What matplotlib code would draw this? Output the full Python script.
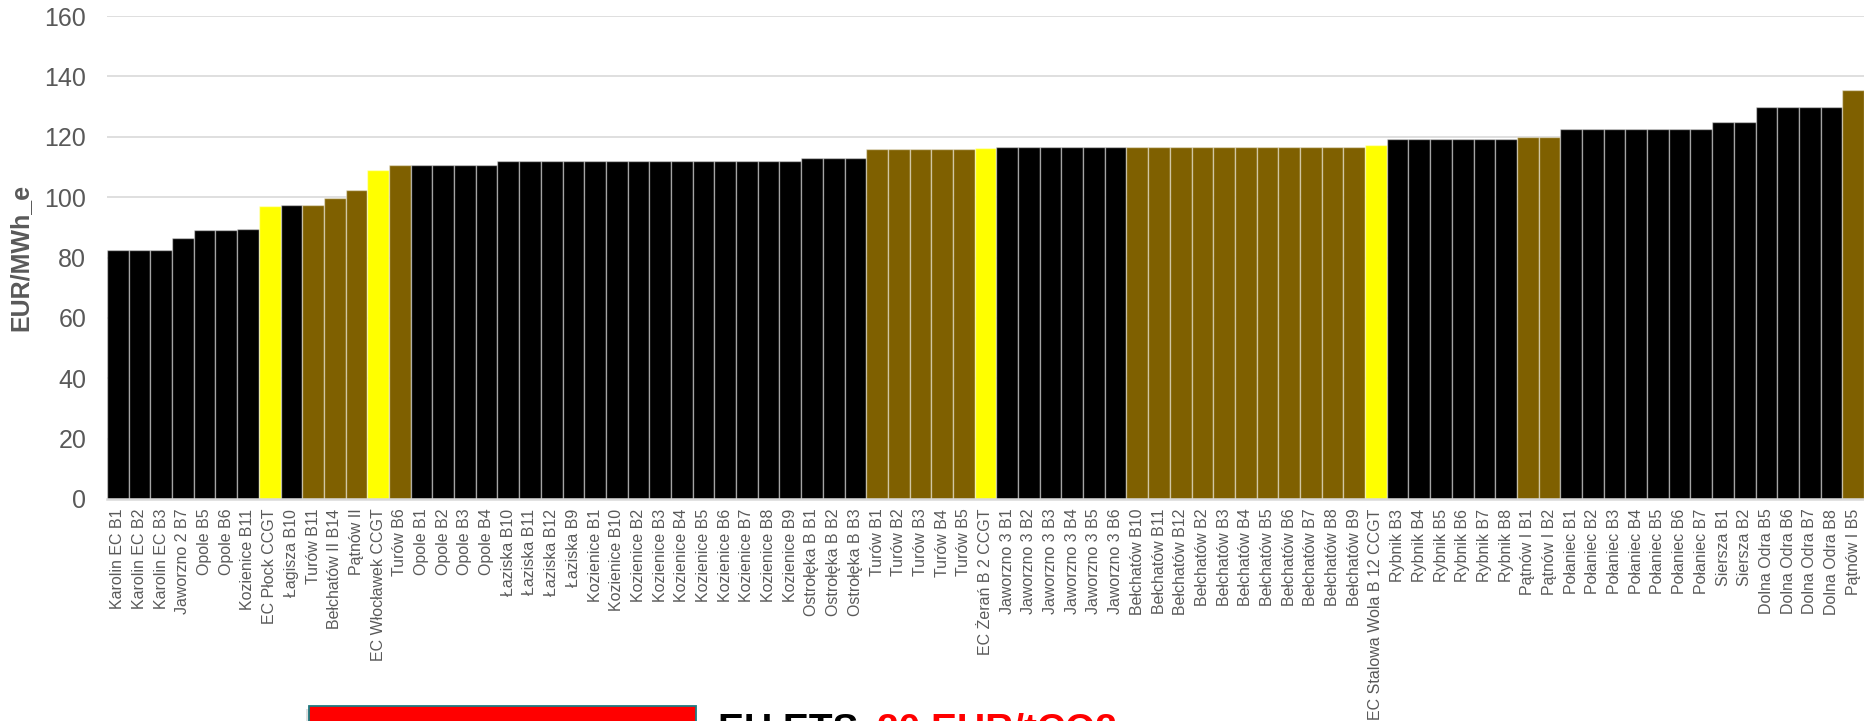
import matplotlib
matplotlib.use("Agg")
import matplotlib.pyplot as plt
from matplotlib.patches import Rectangle

plt.rcParams['font.family'] = ['Liberation Sans', 'DejaVu Sans']

categories = [
    "Karolin EC B1", "Karolin EC B2", "Karolin EC B3", "Jaworzno 2 B7", "Opole B5", "Opole B6",
    "Kozienice B11", "EC Płock CCGT", "Łagisza B10", "Turów B11", "Bełchatów II B14", "Pątnów II",
    "EC Włocławek CCGT", "Turów B6", "Opole B1", "Opole B2", "Opole B3", "Opole B4",
    "Łaziska B10", "Łaziska B11", "Łaziska B12", "Łaziska B9", "Kozienice B1", "Kozienice B10",
    "Kozienice B2", "Kozienice B3", "Kozienice B4", "Kozienice B5", "Kozienice B6", "Kozienice B7",
    "Kozienice B8", "Kozienice B9", "Ostrołęka B B1", "Ostrołęka B B2", "Ostrołęka B B3",
    "Turów B1", "Turów B2", "Turów B3", "Turów B4", "Turów B5", "EC Żerań B 2 CCGT",
    "Jaworzno 3 B1", "Jaworzno 3 B2", "Jaworzno 3 B3", "Jaworzno 3 B4", "Jaworzno 3 B5", "Jaworzno 3 B6",
    "Bełchatów B10", "Bełchatów B11", "Bełchatów B12", "Bełchatów B2", "Bełchatów B3", "Bełchatów B4",
    "Bełchatów B5", "Bełchatów B6", "Bełchatów B7", "Bełchatów B8", "Bełchatów B9",
    "EC Stalowa Wola B 12 CCGT", "Rybnik B3", "Rybnik B4", "Rybnik B5", "Rybnik B6", "Rybnik B7",
    "Rybnik B8", "Pątnów I B1", "Pątnów I B2", "Połaniec B1", "Połaniec B2", "Połaniec B3",
    "Połaniec B4", "Połaniec B5", "Połaniec B6", "Połaniec B7", "Siersza B1", "Siersza B2",
    "Dolna Odra B5", "Dolna Odra B6", "Dolna Odra B7", "Dolna Odra B8", "Pątnów I B5",
]

values = [
    82.4, 82.4, 82.4, 86.3, 89.0, 89.0,
    89.6, 96.9, 97.5, 97.5, 99.6, 102.2,
    109.1, 110.6, 110.6, 110.6, 110.6, 110.6,
    111.9, 111.9, 111.9, 111.9, 112.1, 112.1,
    112.1, 112.1, 112.1, 112.1, 112.1, 112.1,
    112.1, 112.1, 112.8, 112.8, 112.8,
    115.9, 115.9, 115.9, 115.9, 115.9, 116.2,
    116.5, 116.5, 116.5, 116.5, 116.5, 116.5,
    116.5, 116.5, 116.5, 116.5, 116.5, 116.5,
    116.5, 116.5, 116.5, 116.5, 116.5,
    117.4, 119.4, 119.4, 119.4, 119.4, 119.4,
    119.4, 119.8, 119.8, 122.7, 122.7, 122.7,
    122.7, 122.7, 122.7, 122.7, 125.0, 125.0,
    129.8, 129.8, 129.8, 129.8, 135.4,
]

# fuel type: h = hard coal, l = lignite, g = gas
fuel = (
    "hhhhhh" "hghlll" "glhhhh" "hhhhhh" "hhhhhh" "hhhhh"
    "lllllg" "hhhhhh" "llllll" "lllll" "g" "hhhhhh" "ll" "hhhhhhh" "hh" "hhhh" "l"
)
fuel_colors = {"h": "#000000", "l": "#7F6000", "g": "#FFFF00"}
colors = [fuel_colors[f] for f in fuel]

yticks = [0, 20, 40, 60, 80, 100, 120, 140, 160]

W, H = 1864, 721
fig = plt.figure(figsize=(W / 100, H / 100), dpi=100)
ax = fig.add_axes([107 / W, 1 - 499 / H, 1 - 107 / W, (499 - 16) / H])

x = list(range(len(categories)))
ax.bar(x, values, width=1.0, color=colors, edgecolor=(1, 1, 1, 0.45), linewidth=1.0, zorder=3)

ax.set_xlim(-0.5, len(categories) - 0.5)
ax.set_ylim(0, 160)
ax.set_yticks(yticks)
ax.set_yticklabels([str(v) for v in yticks])
ax.set_xticks(x)
ax.set_xticklabels(categories, rotation=90, fontsize=11.5, color="#595959")
ax.tick_params(axis="y", length=0, pad=15, labelsize=18, labelcolor="#595959")
ax.tick_params(axis="x", length=0, pad=7)
ax.grid(axis="y", color="#d9d9d9", linewidth=1.2, zorder=0)
for s in ["top", "right", "left"]:
    ax.spines[s].set_visible(False)
ax.spines["bottom"].set_color("#d9d9d9")
ax.spines["bottom"].set_linewidth(1.8)
ax.spines["bottom"].set_zorder(4)

ax.set_ylabel("EUR/MWh_e", fontsize=18, fontweight="bold", color="#595959")
ax.yaxis.set_label_coords(-(107 - 32) / (W - 107), 0.5)

# red box at bottom (with a faint shadow)
fig.patches.append(Rectangle((306 / W, -40 / H), (696 - 309) / W, (721 - 709 + 40) / H,
                             transform=fig.transFigure, facecolor="#000000", alpha=0.12,
                             edgecolor="none"))
fig.patches.append(Rectangle((309 / W, -40 / H), (696 - 309) / W, (721 - 706 + 40) / H,
                             transform=fig.transFigure, facecolor="#FF0000",
                             edgecolor="#1F7A80", linewidth=1.3))

fig.text(718 / W, -20 / H, "EU ETS: ", fontsize=28, fontweight="bold", color="black",
         va="baseline", ha="left")
fig.text(877 / W, -20 / H, "20 EUR/tCO2", fontsize=28, fontweight="bold", color="#FF0000",
         va="baseline", ha="left")

fig.savefig("out.png", dpi=100)
